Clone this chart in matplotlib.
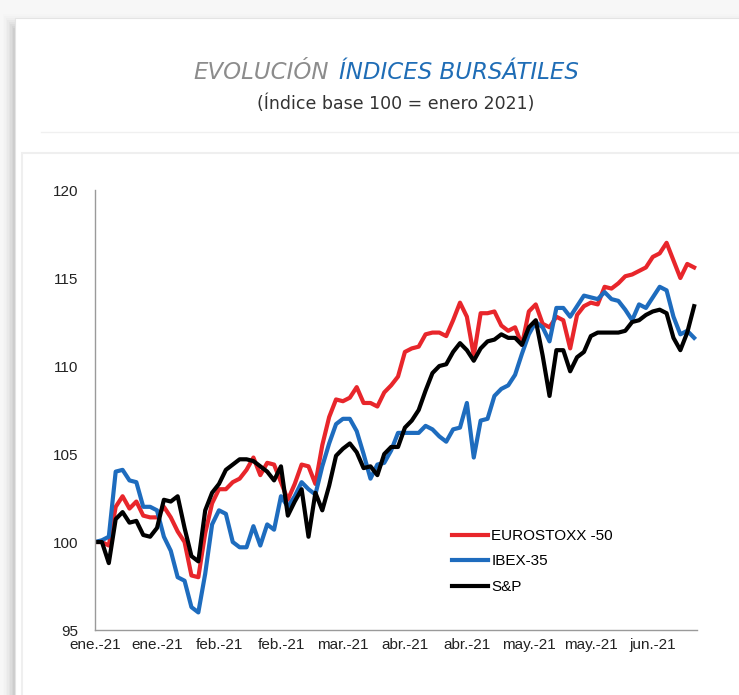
"""Evolución índices bursátiles (base 100 = enero 2021)."""
import matplotlib
matplotlib.use("Agg")
import matplotlib.pyplot as plt
from matplotlib.patches import Rectangle
import pandas as pd

# datos (una observación cada 2 días naturales)
fechas = pd.date_range("2021-01-01", periods=88, freq="2D")

eurostoxx = [
    100.0, 100.0, 99.8, 102.0, 102.6, 101.9, 102.3, 101.5, 101.4, 101.4,
    102.0, 101.4, 100.6, 100.0, 98.1, 98.0, 100.5, 102.2, 103.0, 103.0,
    103.4, 103.6, 104.1, 104.8, 103.8, 104.5, 104.4, 103.4, 102.4, 103.3,
    104.4, 104.3, 103.3, 105.5, 107.1, 108.1, 108.0, 108.2, 108.8, 107.9,
    107.9, 107.7, 108.5, 108.9, 109.4, 110.8, 111.0, 111.1, 111.8, 111.9,
    111.9, 111.7, 112.6, 113.6, 112.8, 110.6, 113.0, 113.0, 113.1, 112.3,
    112.0, 112.2, 111.2, 113.1, 113.5, 112.4, 112.2, 112.8, 112.6, 111.0,
    112.9, 113.4, 113.6, 113.5, 114.5, 114.4, 114.7, 115.1, 115.2, 115.4,
    115.6, 116.2, 116.4, 117.0, 116.0, 115.0, 115.8, 115.6,
]

ibex = [
    100.0, 100.1, 100.3, 104.0, 104.1, 103.5, 103.4, 102.0, 102.0, 101.8,
    100.3, 99.5, 98.0, 97.8, 96.3, 96.0, 98.2, 101.0, 101.8, 101.6,
    100.0, 99.7, 99.7, 100.9, 99.8, 101.0, 100.7, 102.6, 102.0, 102.6,
    103.4, 103.0, 102.7, 104.3, 105.6, 106.7, 107.0, 107.0, 106.3, 105.0,
    103.6, 104.4, 104.5, 105.2, 106.2, 106.2, 106.2, 106.2, 106.6, 106.4,
    106.0, 105.7, 106.4, 106.5, 107.9, 104.8, 106.9, 107.0, 108.3, 108.7,
    108.9, 109.5, 110.7, 111.8, 112.5, 112.2, 111.4, 113.3, 113.3, 112.8,
    113.4, 114.0, 113.9, 113.8, 114.2, 113.8, 113.7, 113.2, 112.6, 113.5,
    113.3, 113.9, 114.5, 114.3, 112.8, 111.8, 112.0, 111.6,
]

sp = [
    100.0, 100.0, 98.8, 101.3, 101.7, 101.1, 101.2, 100.4, 100.3, 100.8,
    102.4, 102.3, 102.6, 100.8, 99.2, 98.9, 101.8, 102.8, 103.3, 104.1,
    104.4, 104.7, 104.7, 104.6, 104.3, 104.0, 103.5, 104.3, 101.5, 102.3,
    103.0, 100.3, 102.8, 101.8, 103.2, 104.9, 105.3, 105.6, 105.1, 104.2,
    104.3, 103.8, 105.0, 105.4, 105.4, 106.5, 106.9, 107.5, 108.6, 109.6,
    110.0, 110.1, 110.8, 111.3, 110.9, 110.3, 111.0, 111.4, 111.5, 111.8,
    111.6, 111.6, 111.2, 112.2, 112.6, 110.6, 108.3, 110.9, 110.9, 109.7,
    110.5, 110.8, 111.7, 111.9, 111.9, 111.9, 111.9, 112.0, 112.5, 112.6,
    112.9, 113.1, 113.2, 113.0, 111.6, 110.9, 111.9, 113.4,
]

nombres = ["EUROSTOXX -50", "IBEX-35", "S&P"]
colores = ["#e8262b", "#1e6cbe", "#000000"]
MESES = ["ene.", "feb.", "mar.", "abr.", "may.", "jun."]
marcas = pd.date_range("2021-01-01", periods=10, freq="18D")
etiquetas = [f"{MESES[d.month - 1]}-{d:%y}" for d in marcas]

plt.rcParams["font.family"] = ["Liberation Sans", "DejaVu Sans"]

fig = plt.figure(figsize=(7.39, 6.95), dpi=100, facecolor="white")

# fondo con sombra suave alrededor de la tarjeta
fig.add_artist(Rectangle((0, 0), 1, 1, transform=fig.transFigure,
                         facecolor="#f7f7f7", edgecolor="none", zorder=-10))
for i in range(8):
    fig.add_artist(Rectangle((0.004 + i * 0.002, -0.02), 1.0, 1.0 - i * 0.003,
                             transform=fig.transFigure, facecolor="#000000",
                             edgecolor="none", alpha=0.008 + 0.004 * i,
                             zorder=-9))
fig.add_artist(Rectangle((0.020, -0.02), 1.0, 0.994, transform=fig.transFigure,
                         facecolor="white", edgecolor="#e4e4e4", lw=0.8,
                         zorder=-4))
fig.add_artist(plt.Line2D([0.055, 1.0], [0.810, 0.810], transform=fig.transFigure,
                          color="#f0f0f0", lw=1, zorder=-3))
fig.add_artist(Rectangle((0.030, -0.02), 1.0, 0.800, transform=fig.transFigure,
                         facecolor="white", edgecolor="#efefef", lw=1.5,
                         zorder=-3))

ax = fig.add_axes([0.1286, 0.0935, 0.8144, 0.6331])
ax.patch.set_alpha(0)

# título en dos colores
t1 = fig.text(0.262, 0.896, "EVOLUCIÓN", fontsize=16.5, style="italic",
              color="#8c8c8c", va="center", ha="left", family="DejaVu Sans")
ax.annotate("ÍNDICES BURSÁTILES", xy=(1, 0), xycoords=t1,
            xytext=(7, 0), textcoords="offset points",
            fontsize=16.5, style="italic", color="#1f6db6",
            va="bottom", ha="left", family="DejaVu Sans",
            annotation_clip=False)
fig.text(0.536, 0.851, "(Índice base 100 = enero 2021)", fontsize=12.5,
         color="#333333", va="center", ha="center", family="DejaVu Sans")

for valores, nombre, color in zip([eurostoxx, ibex, sp], nombres, colores):
    ax.plot(fechas, valores, color=color, lw=3.0, label=nombre,
            solid_joinstyle="round")

ax.set_ylim(95, 120)
ax.set_yticks([95, 100, 105, 110, 115, 120])
ax.set_xlim(fechas[0], fechas[0] + pd.Timedelta(days=174.8))
ax.set_xticks(marcas)
ax.set_xticklabels(etiquetas)
ax.tick_params(axis="both", length=0, labelsize=11, colors="#222222")
ax.tick_params(axis="y", pad=12)
ax.tick_params(axis="x", pad=6)
for lado in ["top", "right"]:
    ax.spines[lado].set_visible(False)
for lado in ["left", "bottom"]:
    ax.spines[lado].set_color("#9a9a9a")
    ax.spines[lado].set_linewidth(1.0)

ax.legend(loc="upper left", bbox_to_anchor=(0.58, 0.247), frameon=False,
          fontsize=11, handlelength=2.4, handletextpad=0.2, labelspacing=0.75,
          borderpad=0)

fig.savefig("out.png", dpi=100, facecolor=fig.get_facecolor())
